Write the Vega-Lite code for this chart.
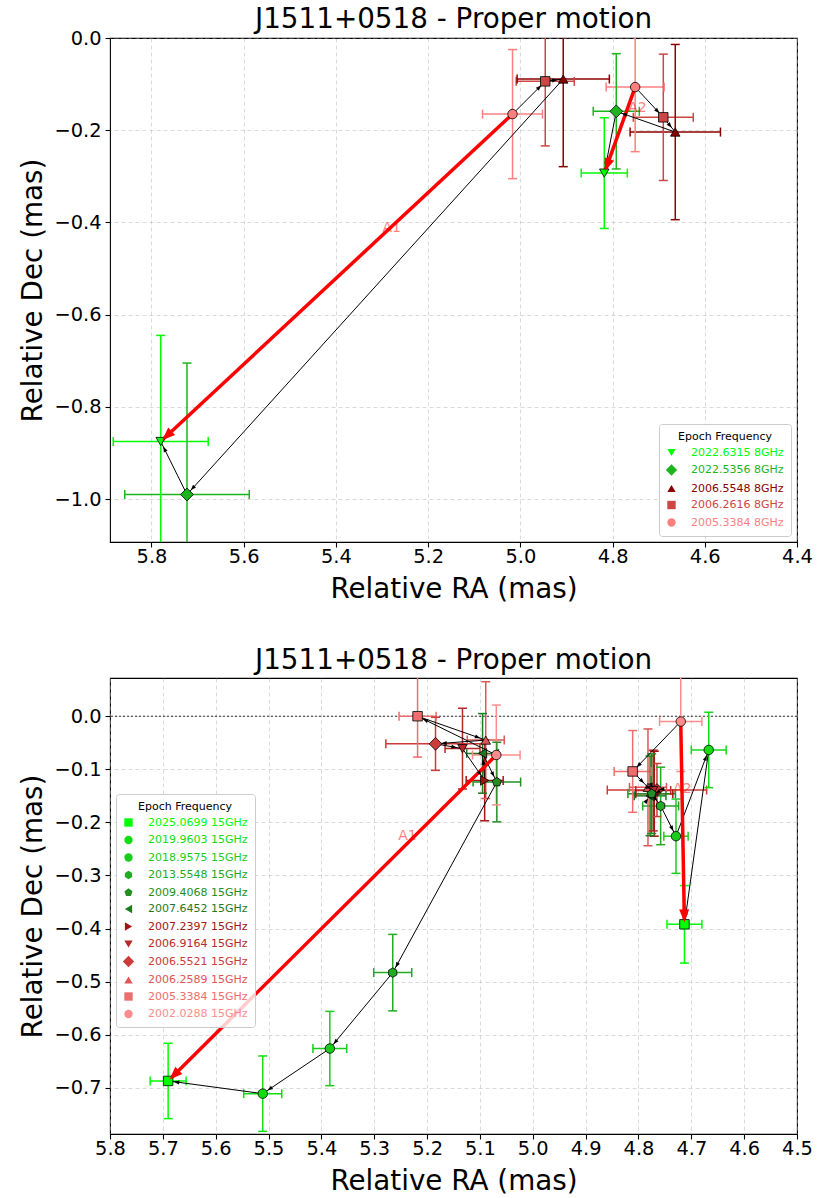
{
  "$schema": "https://vega.github.io/schema/vega-lite/v6.json",
  "padding": {"left": 19, "top": 5, "right": 10, "bottom": 0},
  "spacing": 42,
  "resolve": {
    "scale": {"x": "independent", "y": "independent", "color": "independent", "shape": "independent", "angle": "independent", "stroke": "independent", "fill": "independent"},
    "axis": {"x": "independent", "y": "independent"},
    "legend": {"color": "independent", "shape": "independent"}
  },
  "datasets": {
    "top_pts": [
      {"comp": "A1", "epoch": "2005.3384 8GHz", "ra": 5.017, "dec": -0.165, "ra_lo": 4.952, "ra_hi": 5.082, "dec_lo": -0.305, "dec_hi": -0.025},
      {"comp": "A1", "epoch": "2006.2616 8GHz", "ra": 4.946, "dec": -0.094, "ra_lo": 4.883, "ra_hi": 5.009, "dec_lo": -0.234, "dec_hi": 0.046},
      {"comp": "A1", "epoch": "2006.5548 8GHz", "ra": 4.907, "dec": -0.089, "ra_lo": 4.807, "ra_hi": 5.007, "dec_lo": -0.279, "dec_hi": 0.101},
      {"comp": "A1", "epoch": "2022.5356 8GHz", "ra": 5.723, "dec": -0.990, "ra_lo": 5.588, "ra_hi": 5.858, "dec_lo": -1.275, "dec_hi": -0.705},
      {"comp": "A1", "epoch": "2022.6315 8GHz", "ra": 5.780, "dec": -0.875, "ra_lo": 5.677, "ra_hi": 5.883, "dec_lo": -1.105, "dec_hi": -0.645},
      {"comp": "A2", "epoch": "2005.3384 8GHz", "ra": 4.751, "dec": -0.1065, "ra_lo": 4.688, "ra_hi": 4.814, "dec_lo": -0.2465, "dec_hi": 0.0335},
      {"comp": "A2", "epoch": "2006.2616 8GHz", "ra": 4.690, "dec": -0.172, "ra_lo": 4.625, "ra_hi": 4.755, "dec_lo": -0.309, "dec_hi": -0.035},
      {"comp": "A2", "epoch": "2006.5548 8GHz", "ra": 4.664, "dec": -0.204, "ra_lo": 4.566, "ra_hi": 4.762, "dec_lo": -0.394, "dec_hi": -0.014},
      {"comp": "A2", "epoch": "2022.5356 8GHz", "ra": 4.792, "dec": -0.159, "ra_lo": 4.742, "ra_hi": 4.842, "dec_lo": -0.284, "dec_hi": -0.034},
      {"comp": "A2", "epoch": "2022.6315 8GHz", "ra": 4.818, "dec": -0.293, "ra_lo": 4.768, "ra_hi": 4.868, "dec_lo": -0.413, "dec_hi": -0.173}
    ],
    "top_steps": [
      {"comp": "A1", "ra1": 5.017, "dec1": -0.165, "ra2": 4.946, "dec2": -0.094, "pa": 315.0},
      {"comp": "A1", "ra1": 4.946, "dec1": -0.094, "ra2": 4.907, "dec2": -0.089, "pa": 277.3},
      {"comp": "A1", "ra1": 4.907, "dec1": -0.089, "ra2": 5.723, "dec2": -0.990, "pa": 137.8},
      {"comp": "A1", "ra1": 5.723, "dec1": -0.990, "ra2": 5.780, "dec2": -0.875, "pa": 26.4},
      {"comp": "A2", "ra1": 4.751, "dec1": -0.1065, "ra2": 4.690, "dec2": -0.172, "pa": 223.0},
      {"comp": "A2", "ra1": 4.690, "dec1": -0.172, "ra2": 4.664, "dec2": -0.204, "pa": 219.1},
      {"comp": "A2", "ra1": 4.664, "dec1": -0.204, "ra2": 4.792, "dec2": -0.159, "pa": 70.6},
      {"comp": "A2", "ra1": 4.792, "dec1": -0.159, "ra2": 4.818, "dec2": -0.293, "pa": 169.0}
    ],
    "top_total": [
      {"comp": "A1", "ra1": 5.017, "dec1": -0.165, "ra2": 5.780, "dec2": -0.875, "pa": 132.9},
      {"comp": "A2", "ra1": 4.751, "dec1": -0.1065, "ra2": 4.818, "dec2": -0.293, "pa": 160.2}
    ],
    "top_labels": [
      {"label": "A1", "ra": 5.279, "dec": -0.411},
      {"label": "A2", "ra": 4.746, "dec": -0.152}
    ],
    "bot_pts": [
      {"comp": "A1", "epoch": "2002.0288 15GHz", "ra": 5.069, "dec": -0.073, "ra_lo": 5.024, "ra_hi": 5.114, "dec_lo": -0.167, "dec_hi": 0.021},
      {"comp": "A1", "epoch": "2005.3384 15GHz", "ra": 5.218, "dec": 0.000, "ra_lo": 5.183, "ra_hi": 5.253, "dec_lo": -0.077, "dec_hi": 0.077},
      {"comp": "A1", "epoch": "2006.2589 15GHz", "ra": 5.089, "dec": -0.045, "ra_lo": 5.054, "ra_hi": 5.124, "dec_lo": -0.155, "dec_hi": 0.065},
      {"comp": "A1", "epoch": "2006.5521 15GHz", "ra": 5.184, "dec": -0.052, "ra_lo": 5.090, "ra_hi": 5.278, "dec_lo": -0.102, "dec_hi": -0.002},
      {"comp": "A1", "epoch": "2006.9164 15GHz", "ra": 5.133, "dec": -0.061, "ra_lo": 5.100, "ra_hi": 5.166, "dec_lo": -0.137, "dec_hi": 0.015},
      {"comp": "A1", "epoch": "2007.2397 15GHz", "ra": 5.091, "dec": -0.121, "ra_lo": 5.056, "ra_hi": 5.126, "dec_lo": -0.197, "dec_hi": -0.045},
      {"comp": "A1", "epoch": "2007.6452 15GHz", "ra": 5.095, "dec": -0.070, "ra_lo": 5.065, "ra_hi": 5.125, "dec_lo": -0.145, "dec_hi": 0.005},
      {"comp": "A1", "epoch": "2009.4068 15GHz", "ra": 5.068, "dec": -0.124, "ra_lo": 5.023, "ra_hi": 5.113, "dec_lo": -0.199, "dec_hi": -0.049},
      {"comp": "A1", "epoch": "2013.5548 15GHz", "ra": 5.265, "dec": -0.483, "ra_lo": 5.229, "ra_hi": 5.301, "dec_lo": -0.555, "dec_hi": -0.411},
      {"comp": "A1", "epoch": "2018.9575 15GHz", "ra": 5.384, "dec": -0.626, "ra_lo": 5.352, "ra_hi": 5.416, "dec_lo": -0.696, "dec_hi": -0.556},
      {"comp": "A1", "epoch": "2019.9603 15GHz", "ra": 5.511, "dec": -0.711, "ra_lo": 5.475, "ra_hi": 5.547, "dec_lo": -0.782, "dec_hi": -0.640},
      {"comp": "A1", "epoch": "2025.0699 15GHz", "ra": 5.690, "dec": -0.687, "ra_lo": 5.656, "ra_hi": 5.724, "dec_lo": -0.758, "dec_hi": -0.616},
      {"comp": "A2", "epoch": "2002.0288 15GHz", "ra": 4.720, "dec": -0.010, "ra_lo": 4.680, "ra_hi": 4.760, "dec_lo": -0.104, "dec_hi": 0.084},
      {"comp": "A2", "epoch": "2005.3384 15GHz", "ra": 4.811, "dec": -0.104, "ra_lo": 4.776, "ra_hi": 4.846, "dec_lo": -0.181, "dec_hi": -0.027},
      {"comp": "A2", "epoch": "2006.2589 15GHz", "ra": 4.782, "dec": -0.134, "ra_lo": 4.747, "ra_hi": 4.817, "dec_lo": -0.244, "dec_hi": -0.024},
      {"comp": "A2", "epoch": "2006.5521 15GHz", "ra": 4.765, "dec": -0.139, "ra_lo": 4.671, "ra_hi": 4.859, "dec_lo": -0.189, "dec_hi": -0.089},
      {"comp": "A2", "epoch": "2006.9164 15GHz", "ra": 4.772, "dec": -0.140, "ra_lo": 4.739, "ra_hi": 4.805, "dec_lo": -0.216, "dec_hi": -0.064},
      {"comp": "A2", "epoch": "2007.2397 15GHz", "ra": 4.770, "dec": -0.146, "ra_lo": 4.735, "ra_hi": 4.805, "dec_lo": -0.226, "dec_hi": -0.066},
      {"comp": "A2", "epoch": "2007.6452 15GHz", "ra": 4.778, "dec": -0.150, "ra_lo": 4.748, "ra_hi": 4.808, "dec_lo": -0.225, "dec_hi": -0.075},
      {"comp": "A2", "epoch": "2009.4068 15GHz", "ra": 4.775, "dec": -0.146, "ra_lo": 4.730, "ra_hi": 4.820, "dec_lo": -0.221, "dec_hi": -0.071},
      {"comp": "A2", "epoch": "2013.5548 15GHz", "ra": 4.758, "dec": -0.169, "ra_lo": 4.724, "ra_hi": 4.792, "dec_lo": -0.242, "dec_hi": -0.096},
      {"comp": "A2", "epoch": "2018.9575 15GHz", "ra": 4.729, "dec": -0.226, "ra_lo": 4.706, "ra_hi": 4.752, "dec_lo": -0.296, "dec_hi": -0.156},
      {"comp": "A2", "epoch": "2019.9603 15GHz", "ra": 4.667, "dec": -0.0635, "ra_lo": 4.634, "ra_hi": 4.700, "dec_lo": -0.1345, "dec_hi": 0.0075},
      {"comp": "A2", "epoch": "2025.0699 15GHz", "ra": 4.713, "dec": -0.392, "ra_lo": 4.680, "ra_hi": 4.746, "dec_lo": -0.465, "dec_hi": -0.319}
    ],
    "bot_steps": [
      {"comp": "A1", "ra1": 5.069, "dec1": -0.073, "ra2": 5.218, "dec2": 0.000, "pa": 63.9},
      {"comp": "A1", "ra1": 5.218, "dec1": 0.000, "ra2": 5.089, "dec2": -0.045, "pa": 250.8},
      {"comp": "A1", "ra1": 5.089, "dec1": -0.045, "ra2": 5.184, "dec2": -0.052, "pa": 94.2},
      {"comp": "A1", "ra1": 5.184, "dec1": -0.052, "ra2": 5.133, "dec2": -0.061, "pa": 260.0},
      {"comp": "A1", "ra1": 5.133, "dec1": -0.061, "ra2": 5.091, "dec2": -0.121, "pa": 215.0},
      {"comp": "A1", "ra1": 5.091, "dec1": -0.121, "ra2": 5.095, "dec2": -0.070, "pa": 4.5},
      {"comp": "A1", "ra1": 5.095, "dec1": -0.070, "ra2": 5.068, "dec2": -0.124, "pa": 206.6},
      {"comp": "A1", "ra1": 5.068, "dec1": -0.124, "ra2": 5.265, "dec2": -0.483, "pa": 151.2},
      {"comp": "A1", "ra1": 5.265, "dec1": -0.483, "ra2": 5.384, "dec2": -0.626, "pa": 140.2},
      {"comp": "A1", "ra1": 5.384, "dec1": -0.626, "ra2": 5.511, "dec2": -0.711, "pa": 123.8},
      {"comp": "A1", "ra1": 5.511, "dec1": -0.711, "ra2": 5.690, "dec2": -0.687, "pa": 82.4},
      {"comp": "A2", "ra1": 4.720, "dec1": -0.010, "ra2": 4.811, "dec2": -0.104, "pa": 135.9},
      {"comp": "A2", "ra1": 4.811, "dec1": -0.104, "ra2": 4.782, "dec2": -0.134, "pa": 224.0},
      {"comp": "A2", "ra1": 4.782, "dec1": -0.134, "ra2": 4.765, "dec2": -0.139, "pa": 253.6},
      {"comp": "A2", "ra1": 4.765, "dec1": -0.139, "ra2": 4.772, "dec2": -0.140, "pa": 98.0},
      {"comp": "A2", "ra1": 4.772, "dec1": -0.140, "ra2": 4.770, "dec2": -0.146, "pa": 198.4},
      {"comp": "A2", "ra1": 4.770, "dec1": -0.146, "ra2": 4.778, "dec2": -0.150, "pa": 116.6},
      {"comp": "A2", "ra1": 4.778, "dec1": -0.150, "ra2": 4.775, "dec2": -0.146, "pa": 323.1},
      {"comp": "A2", "ra1": 4.775, "dec1": -0.146, "ra2": 4.758, "dec2": -0.169, "pa": 216.5},
      {"comp": "A2", "ra1": 4.758, "dec1": -0.169, "ra2": 4.729, "dec2": -0.226, "pa": 207.0},
      {"comp": "A2", "ra1": 4.729, "dec1": -0.226, "ra2": 4.667, "dec2": -0.0635, "pa": 339.1},
      {"comp": "A2", "ra1": 4.667, "dec1": -0.0635, "ra2": 4.713, "dec2": -0.392, "pa": 172.0}
    ],
    "bot_total": [
      {"comp": "A1", "ra1": 5.069, "dec1": -0.073, "ra2": 5.690, "dec2": -0.687, "pa": 134.7},
      {"comp": "A2", "ra1": 4.720, "dec1": -0.010, "ra2": 4.713, "dec2": -0.392, "pa": 181.0}
    ],
    "bot_labels": [
      {"label": "A1", "ra": 5.237, "dec": -0.226},
      {"label": "A2", "ra": 4.717, "dec": -0.138}
    ]
  },
  "vconcat": [
    {
      "title": {"text": "J1511+0518 - Proper motion", "offset": -6},
      "width": 687,
      "height": 504,
      "layer": [
        {
          "data": {"values": [{}]},
          "mark": {"type": "rule", "color": "black", "strokeWidth": 0.8, "strokeDash": [2, 2], "clip": true},
          "encoding": {
            "y": {"datum": 0, "type": "quantitative", "scale": {"domain": [-1.093, 0.0], "nice": false, "zero": false},
                  "axis": {"title": "Relative Dec (mas)", "values": [0.0, -0.2, -0.4, -0.6, -0.8, -1.0], "format": ".1f"}}
          }
        },
        {
          "data": {"name": "top_pts"},
          "mark": {"type": "rule", "strokeWidth": 1.5, "clip": true},
          "encoding": {
            "x": {"field": "ra_lo", "type": "quantitative", "scale": {"domain": [4.4, 5.89], "reverse": true, "nice": false, "zero": false},
                  "axis": {"title": "Relative RA (mas)", "values": [5.8, 5.6, 5.4, 5.2, 5.0, 4.8, 4.6, 4.4], "format": ".1f"}},
            "x2": {"field": "ra_hi"},
            "y": {"field": "dec", "type": "quantitative", "scale": {"domain": [-1.093, 0.0], "nice": false, "zero": false},
                  "axis": {"title": "Relative Dec (mas)", "values": [0.0, -0.2, -0.4, -0.6, -0.8, -1.0], "format": ".1f"}},
            "stroke": {"field": "epoch", "type": "nominal", "legend": null,
                      "scale": {"domain": ["2005.3384 8GHz", "2006.2616 8GHz", "2006.5548 8GHz", "2022.5356 8GHz", "2022.6315 8GHz"],
                                "range": ["#ff7f7f", "#cd4545", "#8b0000", "#1db51d", "#00ff00"]}}
          }
        },
        {
          "data": {"name": "top_pts"},
          "mark": {"type": "rule", "strokeWidth": 1.5, "clip": true},
          "encoding": {
            "x": {"field": "ra", "type": "quantitative", "scale": {"domain": [4.4, 5.89], "reverse": true, "nice": false, "zero": false},
                  "axis": {"title": "Relative RA (mas)", "values": [5.8, 5.6, 5.4, 5.2, 5.0, 4.8, 4.6, 4.4], "format": ".1f"}},
            "y": {"field": "dec_lo", "type": "quantitative", "scale": {"domain": [-1.093, 0.0], "nice": false, "zero": false},
                  "axis": {"title": "Relative Dec (mas)", "values": [0.0, -0.2, -0.4, -0.6, -0.8, -1.0], "format": ".1f"}},
            "y2": {"field": "dec_hi"},
            "stroke": {"field": "epoch", "type": "nominal", "legend": null}
          }
        },
        {
          "data": {"name": "top_pts"},
          "mark": {"type": "tick", "orient": "vertical", "size": 9, "thickness": 1.5, "opacity": 1, "clip": true},
          "encoding": {
            "x": {"field": "ra_lo", "type": "quantitative", "scale": {"domain": [4.4, 5.89], "reverse": true, "nice": false, "zero": false},
                  "axis": {"title": "Relative RA (mas)", "values": [5.8, 5.6, 5.4, 5.2, 5.0, 4.8, 4.6, 4.4], "format": ".1f"}},
            "y": {"field": "dec", "type": "quantitative", "scale": {"domain": [-1.093, 0.0], "nice": false, "zero": false},
                  "axis": {"title": "Relative Dec (mas)", "values": [0.0, -0.2, -0.4, -0.6, -0.8, -1.0], "format": ".1f"}},
            "fill": {"field": "epoch", "type": "nominal", "legend": null,
                      "scale": {"domain": ["2005.3384 8GHz", "2006.2616 8GHz", "2006.5548 8GHz", "2022.5356 8GHz", "2022.6315 8GHz"],
                                "range": ["#ff7f7f", "#cd4545", "#8b0000", "#1db51d", "#00ff00"]}}
          }
        },
        {
          "data": {"name": "top_pts"},
          "mark": {"type": "tick", "orient": "vertical", "size": 9, "thickness": 1.5, "opacity": 1, "clip": true},
          "encoding": {
            "x": {"field": "ra_hi", "type": "quantitative", "scale": {"domain": [4.4, 5.89], "reverse": true, "nice": false, "zero": false},
                  "axis": {"title": "Relative RA (mas)", "values": [5.8, 5.6, 5.4, 5.2, 5.0, 4.8, 4.6, 4.4], "format": ".1f"}},
            "y": {"field": "dec", "type": "quantitative", "scale": {"domain": [-1.093, 0.0], "nice": false, "zero": false},
                  "axis": {"title": "Relative Dec (mas)", "values": [0.0, -0.2, -0.4, -0.6, -0.8, -1.0], "format": ".1f"}},
            "fill": {"field": "epoch", "type": "nominal", "legend": null}
          }
        },
        {
          "data": {"name": "top_pts"},
          "mark": {"type": "tick", "orient": "horizontal", "size": 9, "thickness": 1.5, "opacity": 1, "clip": true},
          "encoding": {
            "x": {"field": "ra", "type": "quantitative", "scale": {"domain": [4.4, 5.89], "reverse": true, "nice": false, "zero": false},
                  "axis": {"title": "Relative RA (mas)", "values": [5.8, 5.6, 5.4, 5.2, 5.0, 4.8, 4.6, 4.4], "format": ".1f"}},
            "y": {"field": "dec_lo", "type": "quantitative", "scale": {"domain": [-1.093, 0.0], "nice": false, "zero": false},
                  "axis": {"title": "Relative Dec (mas)", "values": [0.0, -0.2, -0.4, -0.6, -0.8, -1.0], "format": ".1f"}},
            "fill": {"field": "epoch", "type": "nominal", "legend": null}
          }
        },
        {
          "data": {"name": "top_pts"},
          "mark": {"type": "tick", "orient": "horizontal", "size": 9, "thickness": 1.5, "opacity": 1, "clip": true},
          "encoding": {
            "x": {"field": "ra", "type": "quantitative", "scale": {"domain": [4.4, 5.89], "reverse": true, "nice": false, "zero": false},
                  "axis": {"title": "Relative RA (mas)", "values": [5.8, 5.6, 5.4, 5.2, 5.0, 4.8, 4.6, 4.4], "format": ".1f"}},
            "y": {"field": "dec_hi", "type": "quantitative", "scale": {"domain": [-1.093, 0.0], "nice": false, "zero": false},
                  "axis": {"title": "Relative Dec (mas)", "values": [0.0, -0.2, -0.4, -0.6, -0.8, -1.0], "format": ".1f"}},
            "fill": {"field": "epoch", "type": "nominal", "legend": null}
          }
        },
        {
          "data": {"name": "top_labels"},
          "mark": {"type": "text", "fontSize": 14, "color": "red", "opacity": 0.5, "font": "DejaVu Sans"},
          "encoding": {
            "x": {"field": "ra", "type": "quantitative", "scale": {"domain": [4.4, 5.89], "reverse": true, "nice": false, "zero": false},
                  "axis": {"title": "Relative RA (mas)", "values": [5.8, 5.6, 5.4, 5.2, 5.0, 4.8, 4.6, 4.4], "format": ".1f"}},
            "y": {"field": "dec", "type": "quantitative", "scale": {"domain": [-1.093, 0.0], "nice": false, "zero": false},
                  "axis": {"title": "Relative Dec (mas)", "values": [0.0, -0.2, -0.4, -0.6, -0.8, -1.0], "format": ".1f"}},
            "text": {"field": "label"}
          }
        },
        {
          "data": {"name": "top_steps"},
          "mark": {"type": "rule", "color": "black", "strokeWidth": 1, "clip": true},
          "encoding": {
            "x": {"field": "ra1", "type": "quantitative", "scale": {"domain": [4.4, 5.89], "reverse": true, "nice": false, "zero": false},
                  "axis": {"title": "Relative RA (mas)", "values": [5.8, 5.6, 5.4, 5.2, 5.0, 4.8, 4.6, 4.4], "format": ".1f"}},
            "y": {"field": "dec1", "type": "quantitative", "scale": {"domain": [-1.093, 0.0], "nice": false, "zero": false},
                  "axis": {"title": "Relative Dec (mas)", "values": [0.0, -0.2, -0.4, -0.6, -0.8, -1.0], "format": ".1f"}},
            "x2": {"field": "ra2"},
            "y2": {"field": "dec2"}
          }
        },
        {
          "data": {"name": "top_total"},
          "mark": {"type": "rule", "color": "#ff0000", "strokeWidth": 3.5, "clip": true},
          "encoding": {
            "x": {"field": "ra1", "type": "quantitative", "scale": {"domain": [4.4, 5.89], "reverse": true, "nice": false, "zero": false},
                  "axis": {"title": "Relative RA (mas)", "values": [5.8, 5.6, 5.4, 5.2, 5.0, 4.8, 4.6, 4.4], "format": ".1f"}},
            "y": {"field": "dec1", "type": "quantitative", "scale": {"domain": [-1.093, 0.0], "nice": false, "zero": false},
                  "axis": {"title": "Relative Dec (mas)", "values": [0.0, -0.2, -0.4, -0.6, -0.8, -1.0], "format": ".1f"}},
            "x2": {"field": "ra2"},
            "y2": {"field": "dec2"}
          }
        },
        {
          "data": {"name": "top_pts"},
          "mark": {"type": "point", "filled": true, "opacity": 1, "size": 90, "stroke": "black", "strokeWidth": 0.8},
          "encoding": {
            "x": {"field": "ra", "type": "quantitative", "scale": {"domain": [4.4, 5.89], "reverse": true, "nice": false, "zero": false},
                  "axis": {"title": "Relative RA (mas)", "values": [5.8, 5.6, 5.4, 5.2, 5.0, 4.8, 4.6, 4.4], "format": ".1f"}},
            "y": {"field": "dec", "type": "quantitative", "scale": {"domain": [-1.093, 0.0], "nice": false, "zero": false},
                  "axis": {"title": "Relative Dec (mas)", "values": [0.0, -0.2, -0.4, -0.6, -0.8, -1.0], "format": ".1f"}},
            "color": {"field": "epoch", "type": "nominal",
                      "scale": {"domain": ["2022.6315 8GHz", "2022.5356 8GHz", "2006.5548 8GHz", "2006.2616 8GHz", "2005.3384 8GHz"],
                                "range": ["#00ff00", "#1db51d", "#8b0000", "#cd4545", "#ff7f7f"]},
                      "legend": {"title": "Epoch Frequency", "orient": "bottom-right", "offset": 6,
                                 "symbolStrokeColor": "black", "symbolStrokeWidth": 0.8,
                                 "labelColor": {"expr": "datum.label == '2022.6315 8GHz' ? '#00ff00' : datum.label == '2022.5356 8GHz' ? '#1db51d' : datum.label == '2006.5548 8GHz' ? '#8b0000' : datum.label == '2006.2616 8GHz' ? '#cd4545' : '#ff7f7f'"}}},
            "shape": {"field": "epoch", "type": "nominal",
                      "scale": {"domain": ["2022.6315 8GHz", "2022.5356 8GHz", "2006.5548 8GHz", "2006.2616 8GHz", "2005.3384 8GHz"],
                                "range": ["triangle-down", "M-1.35,0L0,-1.35L1.35,0L0,1.35Z", "triangle-up", "square", "circle"]},
                      "legend": {"title": "Epoch Frequency", "orient": "bottom-right", "offset": 6,
                                 "symbolStrokeColor": "black", "symbolStrokeWidth": 0.8,
                                 "labelColor": {"expr": "datum.label == '2022.6315 8GHz' ? '#00ff00' : datum.label == '2022.5356 8GHz' ? '#1db51d' : datum.label == '2006.5548 8GHz' ? '#8b0000' : datum.label == '2006.2616 8GHz' ? '#cd4545' : '#ff7f7f'"}}}
          }
        },
        {
          "data": {"name": "top_steps"},
          "mark": {"type": "point", "filled": true, "opacity": 1, "color": "black", "size": 16, "strokeWidth": 0, "shape": "M0,2.8L-1,5.6L1,5.6Z", "clip": true},
          "encoding": {
            "x": {"field": "ra2", "type": "quantitative", "scale": {"domain": [4.4, 5.89], "reverse": true, "nice": false, "zero": false},
                  "axis": {"title": "Relative RA (mas)", "values": [5.8, 5.6, 5.4, 5.2, 5.0, 4.8, 4.6, 4.4], "format": ".1f"}},
            "y": {"field": "dec2", "type": "quantitative", "scale": {"domain": [-1.093, 0.0], "nice": false, "zero": false},
                  "axis": {"title": "Relative Dec (mas)", "values": [0.0, -0.2, -0.4, -0.6, -0.8, -1.0], "format": ".1f"}},
            "angle": {"field": "pa", "type": "quantitative", "scale": {"domain": [0, 360], "range": [360, 0]}, "legend": null}
          }
        },
        {
          "data": {"name": "top_total"},
          "mark": {"type": "point", "filled": true, "opacity": 1, "color": "#ff0000", "size": 100, "strokeWidth": 0, "shape": "M0,0.4L-1,3L1,3Z", "clip": true},
          "encoding": {
            "x": {"field": "ra2", "type": "quantitative", "scale": {"domain": [4.4, 5.89], "reverse": true, "nice": false, "zero": false},
                  "axis": {"title": "Relative RA (mas)", "values": [5.8, 5.6, 5.4, 5.2, 5.0, 4.8, 4.6, 4.4], "format": ".1f"}},
            "y": {"field": "dec2", "type": "quantitative", "scale": {"domain": [-1.093, 0.0], "nice": false, "zero": false},
                  "axis": {"title": "Relative Dec (mas)", "values": [0.0, -0.2, -0.4, -0.6, -0.8, -1.0], "format": ".1f"}},
            "angle": {"field": "pa", "type": "quantitative", "scale": {"domain": [0, 360], "range": [360, 0]}, "legend": null}
          }
        }
      ]
    },
    {
      "title": {"text": "J1511+0518 - Proper motion", "offset": 3},
      "width": 687,
      "height": 456,
      "layer": [
        {
          "data": {"values": [{}]},
          "mark": {"type": "rule", "color": "black", "strokeWidth": 0.8, "strokeDash": [2, 2], "clip": true},
          "encoding": {
            "y": {"datum": 0, "type": "quantitative", "scale": {"domain": [-0.787, 0.072], "nice": false, "zero": false},
                  "axis": {"title": "Relative Dec (mas)", "values": [0.0, -0.1, -0.2, -0.3, -0.4, -0.5, -0.6, -0.7], "format": ".1f"}}
          }
        },
        {
          "data": {"name": "bot_pts"},
          "mark": {"type": "rule", "strokeWidth": 1.5, "clip": true},
          "encoding": {
            "x": {"field": "ra_lo", "type": "quantitative", "scale": {"domain": [4.5, 5.8], "reverse": true, "nice": false, "zero": false},
                  "axis": {"title": "Relative RA (mas)", "values": [5.8, 5.7, 5.6, 5.5, 5.4, 5.3, 5.2, 5.1, 5.0, 4.9, 4.8, 4.7, 4.6, 4.5], "format": ".1f"}},
            "x2": {"field": "ra_hi"},
            "y": {"field": "dec", "type": "quantitative", "scale": {"domain": [-0.787, 0.072], "nice": false, "zero": false},
                  "axis": {"title": "Relative Dec (mas)", "values": [0.0, -0.1, -0.2, -0.3, -0.4, -0.5, -0.6, -0.7], "format": ".1f"}},
            "stroke": {"field": "epoch", "type": "nominal", "legend": null,
                      "scale": {"domain": ["2002.0288 15GHz", "2005.3384 15GHz", "2006.2589 15GHz", "2006.5521 15GHz", "2006.9164 15GHz", "2007.2397 15GHz", "2007.6452 15GHz", "2009.4068 15GHz", "2013.5548 15GHz", "2018.9575 15GHz", "2019.9603 15GHz", "2025.0699 15GHz"],
                                "range": ["#ff8c8c", "#ee6e6e", "#de5656", "#cc3a3a", "#b82828", "#a31515", "#1f7a1f", "#238f23", "#22aa22", "#1ccc1c", "#12dd12", "#00ff00"]}}
          }
        },
        {
          "data": {"name": "bot_pts"},
          "mark": {"type": "rule", "strokeWidth": 1.5, "clip": true},
          "encoding": {
            "x": {"field": "ra", "type": "quantitative", "scale": {"domain": [4.5, 5.8], "reverse": true, "nice": false, "zero": false},
                  "axis": {"title": "Relative RA (mas)", "values": [5.8, 5.7, 5.6, 5.5, 5.4, 5.3, 5.2, 5.1, 5.0, 4.9, 4.8, 4.7, 4.6, 4.5], "format": ".1f"}},
            "y": {"field": "dec_lo", "type": "quantitative", "scale": {"domain": [-0.787, 0.072], "nice": false, "zero": false},
                  "axis": {"title": "Relative Dec (mas)", "values": [0.0, -0.1, -0.2, -0.3, -0.4, -0.5, -0.6, -0.7], "format": ".1f"}},
            "y2": {"field": "dec_hi"},
            "stroke": {"field": "epoch", "type": "nominal", "legend": null}
          }
        },
        {
          "data": {"name": "bot_pts"},
          "mark": {"type": "tick", "orient": "vertical", "size": 9, "thickness": 1.5, "opacity": 1, "clip": true},
          "encoding": {
            "x": {"field": "ra_lo", "type": "quantitative", "scale": {"domain": [4.5, 5.8], "reverse": true, "nice": false, "zero": false},
                  "axis": {"title": "Relative RA (mas)", "values": [5.8, 5.7, 5.6, 5.5, 5.4, 5.3, 5.2, 5.1, 5.0, 4.9, 4.8, 4.7, 4.6, 4.5], "format": ".1f"}},
            "y": {"field": "dec", "type": "quantitative", "scale": {"domain": [-0.787, 0.072], "nice": false, "zero": false},
                  "axis": {"title": "Relative Dec (mas)", "values": [0.0, -0.1, -0.2, -0.3, -0.4, -0.5, -0.6, -0.7], "format": ".1f"}},
            "fill": {"field": "epoch", "type": "nominal", "legend": null,
                      "scale": {"domain": ["2002.0288 15GHz", "2005.3384 15GHz", "2006.2589 15GHz", "2006.5521 15GHz", "2006.9164 15GHz", "2007.2397 15GHz", "2007.6452 15GHz", "2009.4068 15GHz", "2013.5548 15GHz", "2018.9575 15GHz", "2019.9603 15GHz", "2025.0699 15GHz"],
                                "range": ["#ff8c8c", "#ee6e6e", "#de5656", "#cc3a3a", "#b82828", "#a31515", "#1f7a1f", "#238f23", "#22aa22", "#1ccc1c", "#12dd12", "#00ff00"]}}
          }
        },
        {
          "data": {"name": "bot_pts"},
          "mark": {"type": "tick", "orient": "vertical", "size": 9, "thickness": 1.5, "opacity": 1, "clip": true},
          "encoding": {
            "x": {"field": "ra_hi", "type": "quantitative", "scale": {"domain": [4.5, 5.8], "reverse": true, "nice": false, "zero": false},
                  "axis": {"title": "Relative RA (mas)", "values": [5.8, 5.7, 5.6, 5.5, 5.4, 5.3, 5.2, 5.1, 5.0, 4.9, 4.8, 4.7, 4.6, 4.5], "format": ".1f"}},
            "y": {"field": "dec", "type": "quantitative", "scale": {"domain": [-0.787, 0.072], "nice": false, "zero": false},
                  "axis": {"title": "Relative Dec (mas)", "values": [0.0, -0.1, -0.2, -0.3, -0.4, -0.5, -0.6, -0.7], "format": ".1f"}},
            "fill": {"field": "epoch", "type": "nominal", "legend": null}
          }
        },
        {
          "data": {"name": "bot_pts"},
          "mark": {"type": "tick", "orient": "horizontal", "size": 9, "thickness": 1.5, "opacity": 1, "clip": true},
          "encoding": {
            "x": {"field": "ra", "type": "quantitative", "scale": {"domain": [4.5, 5.8], "reverse": true, "nice": false, "zero": false},
                  "axis": {"title": "Relative RA (mas)", "values": [5.8, 5.7, 5.6, 5.5, 5.4, 5.3, 5.2, 5.1, 5.0, 4.9, 4.8, 4.7, 4.6, 4.5], "format": ".1f"}},
            "y": {"field": "dec_lo", "type": "quantitative", "scale": {"domain": [-0.787, 0.072], "nice": false, "zero": false},
                  "axis": {"title": "Relative Dec (mas)", "values": [0.0, -0.1, -0.2, -0.3, -0.4, -0.5, -0.6, -0.7], "format": ".1f"}},
            "fill": {"field": "epoch", "type": "nominal", "legend": null}
          }
        },
        {
          "data": {"name": "bot_pts"},
          "mark": {"type": "tick", "orient": "horizontal", "size": 9, "thickness": 1.5, "opacity": 1, "clip": true},
          "encoding": {
            "x": {"field": "ra", "type": "quantitative", "scale": {"domain": [4.5, 5.8], "reverse": true, "nice": false, "zero": false},
                  "axis": {"title": "Relative RA (mas)", "values": [5.8, 5.7, 5.6, 5.5, 5.4, 5.3, 5.2, 5.1, 5.0, 4.9, 4.8, 4.7, 4.6, 4.5], "format": ".1f"}},
            "y": {"field": "dec_hi", "type": "quantitative", "scale": {"domain": [-0.787, 0.072], "nice": false, "zero": false},
                  "axis": {"title": "Relative Dec (mas)", "values": [0.0, -0.1, -0.2, -0.3, -0.4, -0.5, -0.6, -0.7], "format": ".1f"}},
            "fill": {"field": "epoch", "type": "nominal", "legend": null}
          }
        },
        {
          "data": {"name": "bot_labels"},
          "mark": {"type": "text", "fontSize": 14, "color": "red", "opacity": 0.5, "font": "DejaVu Sans"},
          "encoding": {
            "x": {"field": "ra", "type": "quantitative", "scale": {"domain": [4.5, 5.8], "reverse": true, "nice": false, "zero": false},
                  "axis": {"title": "Relative RA (mas)", "values": [5.8, 5.7, 5.6, 5.5, 5.4, 5.3, 5.2, 5.1, 5.0, 4.9, 4.8, 4.7, 4.6, 4.5], "format": ".1f"}},
            "y": {"field": "dec", "type": "quantitative", "scale": {"domain": [-0.787, 0.072], "nice": false, "zero": false},
                  "axis": {"title": "Relative Dec (mas)", "values": [0.0, -0.1, -0.2, -0.3, -0.4, -0.5, -0.6, -0.7], "format": ".1f"}},
            "text": {"field": "label"}
          }
        },
        {
          "data": {"name": "bot_steps"},
          "mark": {"type": "rule", "color": "black", "strokeWidth": 1, "clip": true},
          "encoding": {
            "x": {"field": "ra1", "type": "quantitative", "scale": {"domain": [4.5, 5.8], "reverse": true, "nice": false, "zero": false},
                  "axis": {"title": "Relative RA (mas)", "values": [5.8, 5.7, 5.6, 5.5, 5.4, 5.3, 5.2, 5.1, 5.0, 4.9, 4.8, 4.7, 4.6, 4.5], "format": ".1f"}},
            "y": {"field": "dec1", "type": "quantitative", "scale": {"domain": [-0.787, 0.072], "nice": false, "zero": false},
                  "axis": {"title": "Relative Dec (mas)", "values": [0.0, -0.1, -0.2, -0.3, -0.4, -0.5, -0.6, -0.7], "format": ".1f"}},
            "x2": {"field": "ra2"},
            "y2": {"field": "dec2"}
          }
        },
        {
          "data": {"name": "bot_total"},
          "mark": {"type": "rule", "color": "#ff0000", "strokeWidth": 3.5, "clip": true},
          "encoding": {
            "x": {"field": "ra1", "type": "quantitative", "scale": {"domain": [4.5, 5.8], "reverse": true, "nice": false, "zero": false},
                  "axis": {"title": "Relative RA (mas)", "values": [5.8, 5.7, 5.6, 5.5, 5.4, 5.3, 5.2, 5.1, 5.0, 4.9, 4.8, 4.7, 4.6, 4.5], "format": ".1f"}},
            "y": {"field": "dec1", "type": "quantitative", "scale": {"domain": [-0.787, 0.072], "nice": false, "zero": false},
                  "axis": {"title": "Relative Dec (mas)", "values": [0.0, -0.1, -0.2, -0.3, -0.4, -0.5, -0.6, -0.7], "format": ".1f"}},
            "x2": {"field": "ra2"},
            "y2": {"field": "dec2"}
          }
        },
        {
          "data": {"name": "bot_pts"},
          "mark": {"type": "point", "filled": true, "opacity": 1, "size": 90, "stroke": "black", "strokeWidth": 0.8},
          "encoding": {
            "x": {"field": "ra", "type": "quantitative", "scale": {"domain": [4.5, 5.8], "reverse": true, "nice": false, "zero": false},
                  "axis": {"title": "Relative RA (mas)", "values": [5.8, 5.7, 5.6, 5.5, 5.4, 5.3, 5.2, 5.1, 5.0, 4.9, 4.8, 4.7, 4.6, 4.5], "format": ".1f"}},
            "y": {"field": "dec", "type": "quantitative", "scale": {"domain": [-0.787, 0.072], "nice": false, "zero": false},
                  "axis": {"title": "Relative Dec (mas)", "values": [0.0, -0.1, -0.2, -0.3, -0.4, -0.5, -0.6, -0.7], "format": ".1f"}},
            "color": {"field": "epoch", "type": "nominal",
                      "scale": {"domain": ["2025.0699 15GHz", "2019.9603 15GHz", "2018.9575 15GHz", "2013.5548 15GHz", "2009.4068 15GHz", "2007.6452 15GHz", "2007.2397 15GHz", "2006.9164 15GHz", "2006.5521 15GHz", "2006.2589 15GHz", "2005.3384 15GHz", "2002.0288 15GHz"],
                                "range": ["#00ff00", "#12dd12", "#1ccc1c", "#22aa22", "#238f23", "#1f7a1f", "#a31515", "#b82828", "#cc3a3a", "#de5656", "#ee6e6e", "#ff8c8c"]},
                      "legend": {"title": "Epoch Frequency", "orient": "none", "legendX": 6, "legendY": 116,
                                 "symbolStrokeColor": "black", "symbolStrokeWidth": 0.8,
                                 "labelColor": {"expr": "datum.label == '2025.0699 15GHz' ? '#00ff00' : datum.label == '2019.9603 15GHz' ? '#12dd12' : datum.label == '2018.9575 15GHz' ? '#1ccc1c' : datum.label == '2013.5548 15GHz' ? '#22aa22' : datum.label == '2009.4068 15GHz' ? '#238f23' : datum.label == '2007.6452 15GHz' ? '#1f7a1f' : datum.label == '2007.2397 15GHz' ? '#a31515' : datum.label == '2006.9164 15GHz' ? '#b82828' : datum.label == '2006.5521 15GHz' ? '#cc3a3a' : datum.label == '2006.2589 15GHz' ? '#de5656' : datum.label == '2005.3384 15GHz' ? '#ee6e6e' : '#ff8c8c'"}}},
            "shape": {"field": "epoch", "type": "nominal",
                      "scale": {"domain": ["2025.0699 15GHz", "2019.9603 15GHz", "2018.9575 15GHz", "2013.5548 15GHz", "2009.4068 15GHz", "2007.6452 15GHz", "2007.2397 15GHz", "2006.9164 15GHz", "2006.5521 15GHz", "2006.2589 15GHz", "2005.3384 15GHz", "2002.0288 15GHz"],
                                "range": ["square", "circle", "circle", "M0,-1L0.866,-0.5L0.866,0.5L0,1L-0.866,0.5L-0.866,-0.5Z", "M0,-1L0.951,-0.309L0.588,0.809L-0.588,0.809L-0.951,-0.309Z", "triangle-left", "triangle-right", "triangle-down", "M-1.35,0L0,-1.35L1.35,0L0,1.35Z", "triangle-up", "square", "circle"]},
                      "legend": {"title": "Epoch Frequency", "orient": "none", "legendX": 6, "legendY": 116,
                                 "symbolStrokeColor": "black", "symbolStrokeWidth": 0.8,
                                 "labelColor": {"expr": "datum.label == '2025.0699 15GHz' ? '#00ff00' : datum.label == '2019.9603 15GHz' ? '#12dd12' : datum.label == '2018.9575 15GHz' ? '#1ccc1c' : datum.label == '2013.5548 15GHz' ? '#22aa22' : datum.label == '2009.4068 15GHz' ? '#238f23' : datum.label == '2007.6452 15GHz' ? '#1f7a1f' : datum.label == '2007.2397 15GHz' ? '#a31515' : datum.label == '2006.9164 15GHz' ? '#b82828' : datum.label == '2006.5521 15GHz' ? '#cc3a3a' : datum.label == '2006.2589 15GHz' ? '#de5656' : datum.label == '2005.3384 15GHz' ? '#ee6e6e' : '#ff8c8c'"}}}
          }
        },
        {
          "data": {"name": "bot_steps"},
          "mark": {"type": "point", "filled": true, "opacity": 1, "color": "black", "size": 16, "strokeWidth": 0, "shape": "M0,2.8L-1,5.6L1,5.6Z", "clip": true},
          "encoding": {
            "x": {"field": "ra2", "type": "quantitative", "scale": {"domain": [4.5, 5.8], "reverse": true, "nice": false, "zero": false},
                  "axis": {"title": "Relative RA (mas)", "values": [5.8, 5.7, 5.6, 5.5, 5.4, 5.3, 5.2, 5.1, 5.0, 4.9, 4.8, 4.7, 4.6, 4.5], "format": ".1f"}},
            "y": {"field": "dec2", "type": "quantitative", "scale": {"domain": [-0.787, 0.072], "nice": false, "zero": false},
                  "axis": {"title": "Relative Dec (mas)", "values": [0.0, -0.1, -0.2, -0.3, -0.4, -0.5, -0.6, -0.7], "format": ".1f"}},
            "angle": {"field": "pa", "type": "quantitative", "scale": {"domain": [0, 360], "range": [360, 0]}, "legend": null}
          }
        },
        {
          "data": {"name": "bot_total"},
          "mark": {"type": "point", "filled": true, "opacity": 1, "color": "#ff0000", "size": 100, "strokeWidth": 0, "shape": "M0,0.4L-1,3L1,3Z", "clip": true},
          "encoding": {
            "x": {"field": "ra2", "type": "quantitative", "scale": {"domain": [4.5, 5.8], "reverse": true, "nice": false, "zero": false},
                  "axis": {"title": "Relative RA (mas)", "values": [5.8, 5.7, 5.6, 5.5, 5.4, 5.3, 5.2, 5.1, 5.0, 4.9, 4.8, 4.7, 4.6, 4.5], "format": ".1f"}},
            "y": {"field": "dec2", "type": "quantitative", "scale": {"domain": [-0.787, 0.072], "nice": false, "zero": false},
                  "axis": {"title": "Relative Dec (mas)", "values": [0.0, -0.1, -0.2, -0.3, -0.4, -0.5, -0.6, -0.7], "format": ".1f"}},
            "angle": {"field": "pa", "type": "quantitative", "scale": {"domain": [0, 360], "range": [360, 0]}, "legend": null}
          }
        }
      ]
    }
  ],
  "config": {
    "font": "DejaVu Sans",
    "background": "white",
    "view": {"stroke": "black", "strokeWidth": 1.1},
    "title": {"fontSize": 27.8, "fontWeight": "normal", "font": "DejaVu Sans", "color": "black", "anchor": "middle"},
    "axis": {
      "labelFont": "DejaVu Sans", "titleFont": "DejaVu Sans",
      "labelFontSize": 19.4, "titleFontSize": 27.8, "titleFontWeight": "normal",
      "labelColor": "black", "titleColor": "black",
      "tickColor": "black", "tickSize": 5, "tickWidth": 1.1,
      "domain": false, "labelFlush": false, "labelOverlap": false,
      "grid": true, "gridColor": "#b0b0b0", "gridDash": [4, 3], "gridOpacity": 0.6, "gridWidth": 0.8
    },
    "axisX": {"labelPadding": 0, "titlePadding": 10},
    "axisY": {"labelPadding": 4, "titlePadding": 6},
    "legend": {
      "titleFont": "DejaVu Sans", "labelFont": "DejaVu Sans",
      "titleFontSize": 11, "labelFontSize": 11, "titleFontWeight": "normal", "titleColor": "black",
      "titleAnchor": "middle",
      "fillColor": "rgba(255,255,255,0.8)", "strokeColor": "#cccccc", "cornerRadius": 3,
      "padding": 7, "symbolSize": 70, "symbolStrokeColor": "black", "symbolStrokeWidth": 0.8,
      "symbolOpacity": 1, "labelOffset": 14, "rowPadding": 4.5, "titlePadding": 5
    }
  }
}
